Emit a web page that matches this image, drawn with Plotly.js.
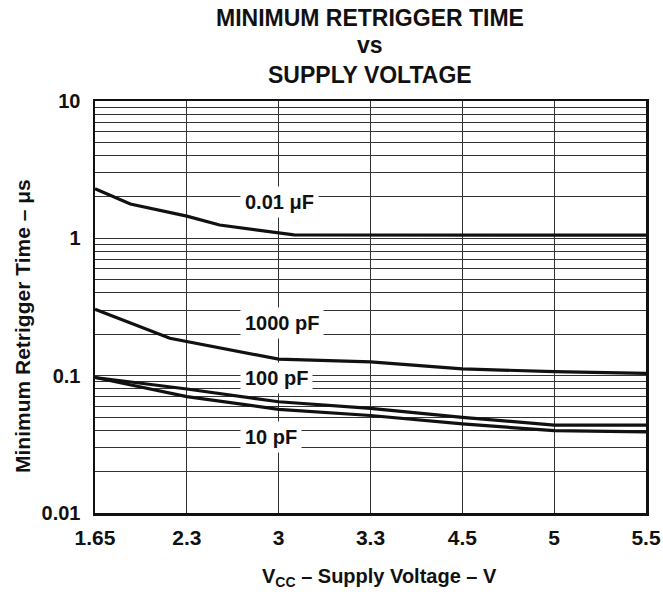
<!DOCTYPE html>
<html>
<head>
<meta charset="utf-8">
<script src="https://cdn.plot.ly/plotly-3.0.1.min.js"></script>
<style>html,body{margin:0;padding:0;background:#fff;}#chart{width:663px;height:596px;}</style>
</head>
<body>
<div id="chart"></div>
<script>
// X axis tick labels (supply voltage, V) - equally spaced on the chart
const vccTicks = [1.65, 2.3, 3, 3.3, 4.5, 5, 5.5];
const vccTickText = ["1.65", "2.3", "3", "3.3", "4.5", "5", "5.5"];

// Y axis decade labels
const yTickVals = [0.01, 0.1, 1, 10];
const yTickText = ["0.01", "0.1", "1", "10"];

// Series: supply voltage (V) and minimum retrigger time (µs)
const vcc_001uF = [1.65, 1.90, 2.3, 2.55, 3.05, 3.3, 4.5, 5, 5.5];
const t_001uF   = [2.30, 1.78, 1.45, 1.25, 1.06, 1.055, 1.055, 1.055, 1.055];

const vcc_1000pF = [1.65, 2.18, 3.0, 3.3, 4.5, 5, 5.5];
const t_1000pF   = [0.304, 0.187, 0.132, 0.126, 0.112, 0.107, 0.104];

const vcc_100pF = [1.65, 2.3, 3, 3.3, 4.5, 5, 5.5];
const t_100pF   = [0.097, 0.080, 0.0646, 0.0578, 0.0497, 0.0437, 0.0437];

const vcc_10pF = [1.65, 2.3, 3, 3.3, 4.5, 5, 5.5];
const t_10pF   = [0.097, 0.0703, 0.0569, 0.0513, 0.0445, 0.0398, 0.039];

const seriesNames = ["0.01 μF", "1000 pF", "100 pF", "10 pF"];
const titleLines = ["MINIMUM RETRIGGER TIME", "vs", "SUPPLY VOLTAGE"];

// Scale: the chart's x axis places the tick voltages at equal spacing;
// map a voltage onto that piecewise-linear axis.
function vToAxis(v) {
  for (let i = 0; i < vccTicks.length - 1; i++) {
    if (v <= vccTicks[i + 1]) {
      return i + (v - vccTicks[i]) / (vccTicks[i + 1] - vccTicks[i]);
    }
  }
  return vccTicks.length - 1;
}

// minor log grid positions
const gridVals = [];
const gridText = [];
for (let d = -2; d <= 0; d++) {
  for (let m = 1; m <= 9; m++) {
    const v = m * Math.pow(10, d);
    gridVals.push(v);
    const k = yTickVals.findIndex(t => Math.abs(t - v) < 1e-9);
    gridText.push(k >= 0 ? yTickText[k] : "");
  }
}
gridVals.push(10); gridText.push("10");

const FONT = "Liberation Sans, Arial, Helvetica, sans-serif";
const lineStyle = {color: "#111", width: 3.2};

const series = [
  [vcc_001uF, t_001uF],
  [vcc_1000pF, t_1000pF],
  [vcc_100pF, t_100pF],
  [vcc_10pF, t_10pF]
];

const data = series.map((s, i) => ({
  x: s[0].map(vToAxis),
  y: s[1],
  type: "scatter",
  mode: "lines",
  name: seriesNames[i],
  line: lineStyle,
  hoverinfo: "skip"
}));

const labelFont = {family: FONT, size: 20, color: "#111"};
// label boxes start at pixel x≈240 (axis units: (240-95)/91.83)
const labelX = (240 - 95) / 91.83;
function curveLabel(text, y) {
  return {text: "<b>" + text + "</b>", x: labelX, y: y, xref: "x", yref: "y",
    xanchor: "left", showarrow: false, bgcolor: "#fff", borderpad: 4, font: labelFont};
}
// plot area spans pixels 101..513 vertically
function py(p) { return (513 - p) / 412; }
function titleLine(text, p) {
  return {text: "<b>" + text + "</b>", xref: "paper", yref: "paper",
    x: (370 - 95) / 551, y: py(p), xanchor: "center", yanchor: "middle",
    showarrow: false, font: {family: FONT, size: 23, color: "#111"}};
}

const layout = {
  width: 663, height: 596,
  margin: {l: 95, r: 17, t: 101, b: 83},
  paper_bgcolor: "#fff", plot_bgcolor: "#fff",
  showlegend: false,
  xaxis: {
    range: [0, vccTicks.length - 1],
    tickmode: "array",
    tickvals: vccTicks.map(vToAxis),
    ticktext: vccTickText.map(t => "<b>" + t + "</b>"),
    tickfont: {family: FONT, size: 21, color: "#111"},
    ticks: "", ticklen: 0, ticklabelstandoff: 4,
    showgrid: true, gridcolor: "#333", gridwidth: 1,
    showline: true, linecolor: "#111", linewidth: 2.5, mirror: true,
    zeroline: false, fixedrange: true
  },
  yaxis: {
    type: "log",
    range: [-2, 1],
    tickmode: "array",
    tickvals: gridVals,
    ticktext: gridText.map(t => t ? "<b>" + t + "</b>" : ""),
    tickfont: {family: FONT, size: 20, color: "#111"},
    ticks: "", ticklen: 0, ticklabelstandoff: 8,
    showgrid: true, gridcolor: "#333", gridwidth: 1,
    showline: true, linecolor: "#111", linewidth: 2.5, mirror: true,
    zeroline: false, fixedrange: true
  },
  annotations: [
    titleLine(titleLines[0], 18),
    titleLine(titleLines[1], 45),
    titleLine(titleLines[2], 75),
    curveLabel(seriesNames[0], 0.265),
    curveLabel(seriesNames[1], -0.617),
    curveLabel(seriesNames[2], -1.017),
    curveLabel(seriesNames[3], -1.447),
    {text: "<b>Minimum Retrigger Time – μs</b>", textangle: -90,
      xref: "paper", yref: "paper", x: -73 / 551, y: py(326),
      xanchor: "center", yanchor: "middle", showarrow: false,
      font: {family: FONT, size: 21, color: "#111"}},
    {text: "<b>V<sub>CC</sub> – Supply Voltage – V</b>",
      xref: "paper", yref: "paper", x: (379 - 95) / 551, y: py(577),
      xanchor: "center", yanchor: "middle", showarrow: false,
      font: {family: FONT, size: 20, color: "#111"}}
  ]
};

Plotly.newPlot("chart", data, layout, {displayModeBar: false, staticPlot: true});
</script>
</body>
</html>
